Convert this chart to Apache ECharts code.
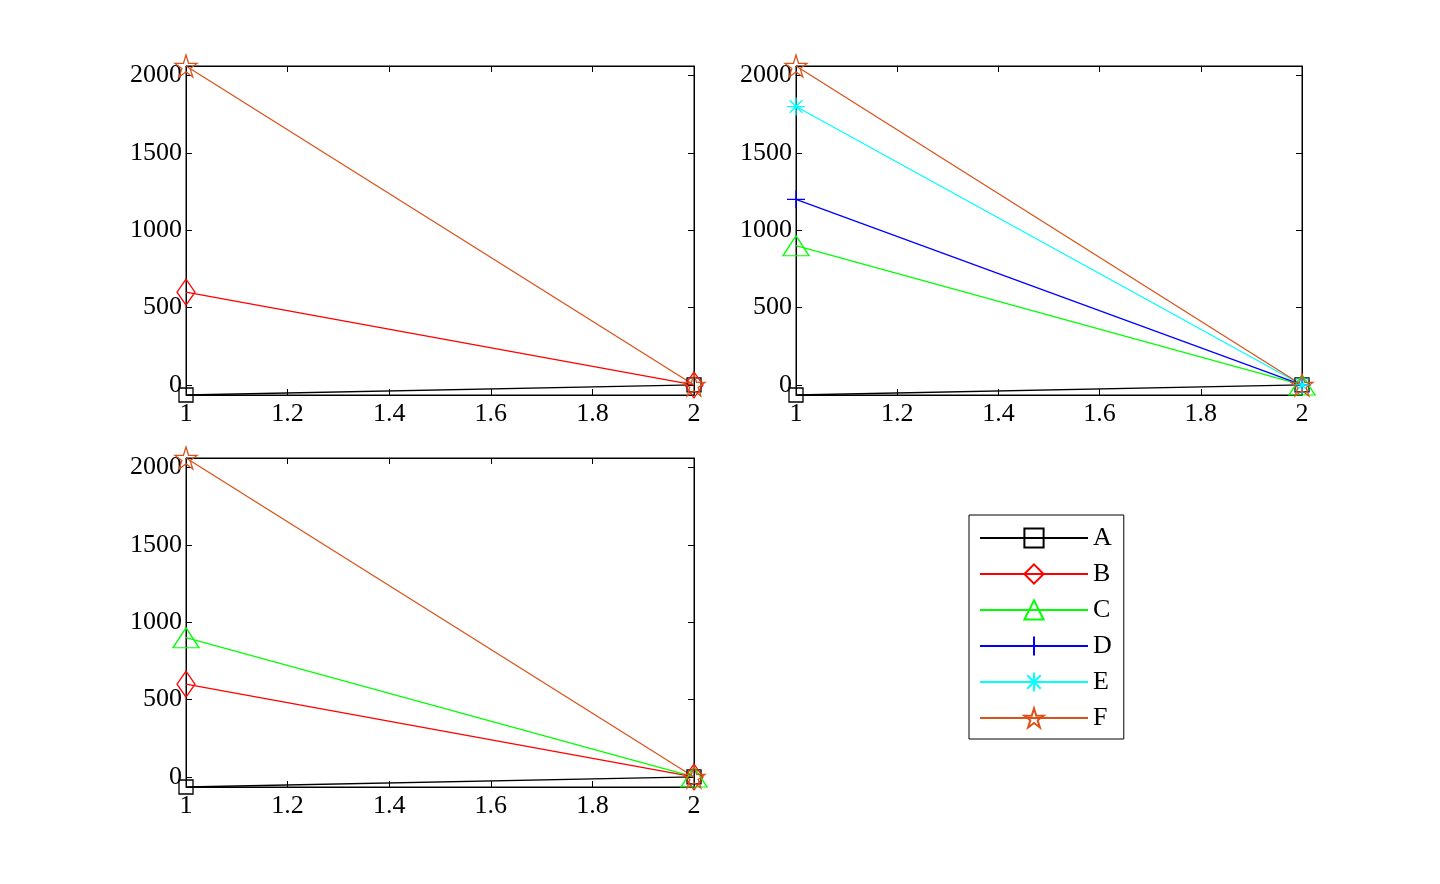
<!DOCTYPE html>
<html><head><meta charset="utf-8">
<script src="https://cdn.jsdelivr.net/npm/echarts@6/dist/echarts.min.js"></script>
<style>html,body{margin:0;background:#fff}#c{width:1440px;height:884px}</style>
</head><body><div id="c"></div>
<script>
const xVals = [1, 2];
const A = [-65, 0];
const B = [600, 0];
const C = [900, 0];
const D = [1200, 0];
const E = [1800, 0];
const F = [2062, 0];
const yTicks = [0, 500, 1000, 1500, 2000];
const xTicks = [1, 1.2, 1.4, 1.6, 1.8, 2];
const panels = [['A','B','F'], ['A','C','D','E','F'], ['A','B','C','F']];

const STAR = 'path://M0,-1L0.225,-0.309L0.951,-0.309L0.363,0.118L0.588,0.809L0,0.382L-0.588,0.809L-0.363,0.118L-0.951,-0.309L-0.225,-0.309Z';
const defs = {
  A: {d: A, c: '#000000', s: 'rect', sz: 14},
  B: {d: B, c: '#ff0000', s: 'diamond', sz: [18, 26]},
  C: {d: C, c: '#00ff00', s: 'triangle', sz: [26, 20]},
  D: {d: D, c: '#0000ff', s: 'path://M0,-1L0,1M-1,0L1,0', sz: 18},
  E: {d: E, c: '#00ffff', s: 'path://M0,-1L0,1M-1,0L1,0M-0.7,-0.7L0.7,0.7M-0.7,0.7L0.7,-0.7', sz: 18},
  F: {d: F, c: '#d95319', s: STAR, sz: 22}
};
const grids = [
  {left: 186, top: 66, width: 508, height: 329},
  {left: 796, top: 66, width: 506, height: 329},
  {left: 186, top: 458, width: 508, height: 329}
];
const font = 'Liberation Serif';
const xAxis = [], yAxis = [], series = [];
grids.forEach((g, i) => {
  g.show = true; g.borderColor = '#000'; g.borderWidth = 1; g.backgroundColor = 'transparent';
  ['bottom', 'top'].forEach((pos, k) => xAxis.push({
    type: 'value', gridIndex: i, position: pos, min: 1, max: 2,
    axisLine: {show: true, onZero: false, lineStyle: {color: '#000'}},
    axisTick: {show: true, inside: true, length: 6, customValues: xTicks, lineStyle: {color: '#000'}},
    axisLabel: {show: k === 0, customValues: xTicks, color: '#000', fontFamily: font, fontSize: 26, margin: 6,
      formatter: v => String(+(+v).toFixed(1))},
    splitLine: {show: false}
  }));
  ['left', 'right'].forEach((pos, k) => yAxis.push({
    type: 'value', gridIndex: i, position: pos, min: -65, max: 2062,
    axisLine: {show: true, onZero: false, lineStyle: {color: '#000'}},
    axisTick: {show: true, inside: true, length: 6, customValues: yTicks, lineStyle: {color: '#000'}},
    axisLabel: {show: k === 0, customValues: yTicks, color: '#000', fontFamily: font, fontSize: 26, margin: 4,
      formatter: v => String(Math.round(v))},
    splitLine: {show: false}
  }));
  panels[i].forEach(n => {
    const s = defs[n];
    series.push({
      name: n, type: 'line', xAxisIndex: i * 2, yAxisIndex: i * 2,
      data: xVals.map((x, j) => [x, s.d[j]]),
      symbol: s.s, symbolSize: s.sz, showAllSymbol: true,
      lineStyle: {color: s.c, width: 1.3},
      itemStyle: {color: 'none', borderColor: s.c, borderWidth: 1.3},
      emphasis: {disabled: true}, animation: false, z: 2
    });
  });
});
const chart = echarts.init(document.getElementById('c'));
chart.setOption({
  backgroundColor: '#fff',
  animation: false,
  grid: grids, xAxis, yAxis, series,
  legend: {
    data: ['A','B','C','D','E','F'], orient: 'vertical', left: 969, top: 515,
    itemWidth: 108, itemHeight: 24, itemGap: 10,
    padding: [10, 12, 8, 10], borderColor: '#000', borderWidth: 1,
    textStyle: {fontFamily: font, fontSize: 26, color: '#000'},
    selectedMode: false
  }
});
</script></body></html>
